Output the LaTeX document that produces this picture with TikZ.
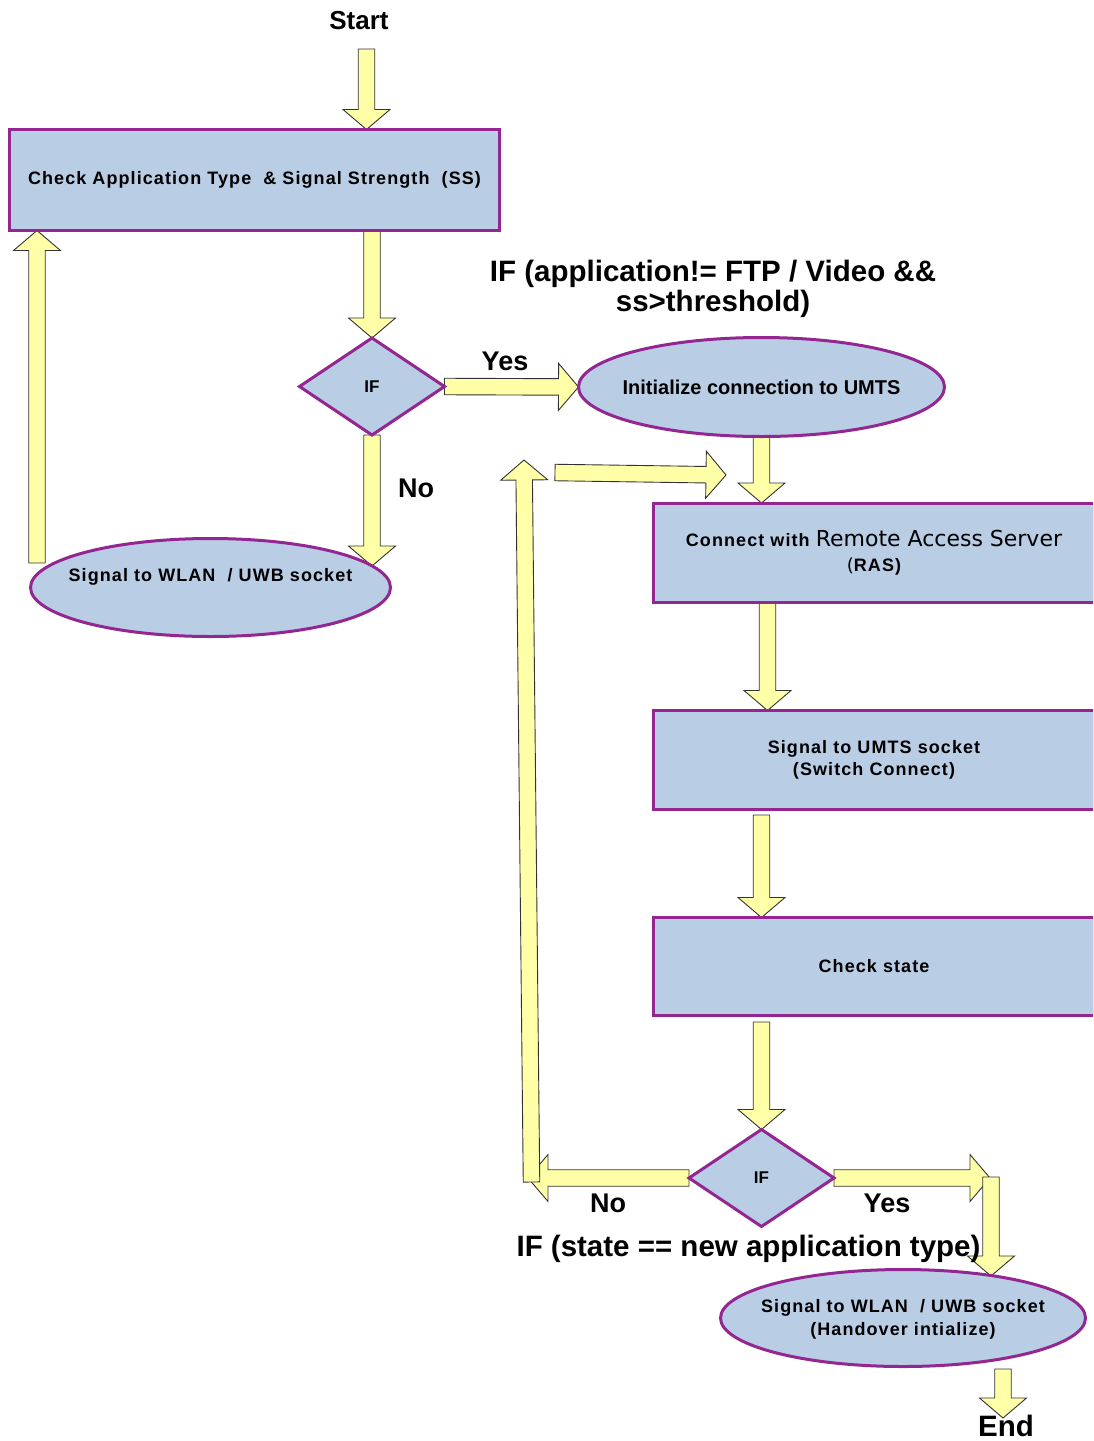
\documentclass[tikz,border=0pt]{standalone}
\usepackage{fontspec}
\setmainfont{Liberation Sans}
\newfontfamily\lsp[LetterSpace=6]{Liberation Sans}
\newfontfamily\dvs{DejaVu Sans}
\usetikzlibrary{shapes.geometric,calc}
\definecolor{pur}{RGB}{148,38,145}
\definecolor{bfill}{RGB}{185,205,229}
\definecolor{ayel}{RGB}{255,255,168}
\pgfdeclarelayer{bg}
\pgfsetlayers{bg,main}
\newcommand\bfs{\lsp\bfseries\fontsize{18}{22}\selectfont}
\newcommand\blockarr[2]{%
  \coordinate (ba-a) at #1;
  \coordinate (ba-b) at #2;
  \coordinate (ba-h) at ($(ba-b)!20pt!(ba-a)$);
  \draw[arrowbody] ($(ba-a)!8.25pt!90:(ba-b)$) -- ($(ba-h)!8.25pt!90:(ba-b)$)
    -- ($(ba-h)!23.5pt!90:(ba-b)$) -- (ba-b) -- ($(ba-h)!23.5pt!-90:(ba-b)$)
    -- ($(ba-h)!8.25pt!-90:(ba-b)$) -- ($(ba-a)!8.25pt!-90:(ba-b)$) -- cycle;
}
\begin{document}
\begin{tikzpicture}[x=1pt,y=-1pt,
  box/.style={rectangle, draw=pur, line width=3pt, fill=bfill, inner sep=0pt, outer sep=0pt, align=center, font=\bfs},
  ell/.style={ellipse, draw=pur, line width=3pt, fill=bfill, inner sep=0pt, outer sep=0pt},
  dia/.style={diamond, draw=pur, line width=3pt, fill=bfill, inner sep=0pt, outer sep=0pt, minimum width=145, minimum height=97, font=\bfseries\fontsize{17}{20}\selectfont},
  txt/.style={font=\bfs, align=center, inner sep=0pt},
  lblA/.style={font=\bfseries\fontsize{29.5}{34}\selectfont, inner sep=0pt},
  lblB/.style={font=\bfseries\fontsize{27}{32}\selectfont, inner sep=0pt},
  arrowbody/.style={fill=ayel, draw=black!80, line width=0.9pt, line join=miter}]
\useasboundingbox (0,0) rectangle (1093,1441);
\clip (0,0) rectangle (1093,1441);

% nodes
\node[lblA, anchor=base, font=\bfseries\fontsize{26}{30}\selectfont] (start) at (359,29.5) {Start};
\node[box, minimum width=490, minimum height=101] (box1) at (254.5,180) {Check Application Type\ \ \& Signal Strength\ \ (SS)};
\node[lblA, anchor=base] (cond1a) at (713,281) {IF (application!= FTP / Video \&\&};
\node[lblA, anchor=base] (cond1b) at (713,311) {ss>threshold)};
\node[dia] (if1) at (372,386.5) {IF};
\node[lblB, anchor=base] (yes1) at (505,370) {Yes};
\node[lblB, anchor=base] (no1) at (416,497) {No};
\node[ell, minimum width=366, minimum height=99] (init) at (761.5,387) {};
\node[txt, font=\bfseries\fontsize{20}{24}\selectfont] (inittxt) at (init.center) {Initialize connection to UMTS};
\node[ell, minimum width=360, minimum height=98] (wlan) at (210.5,587.5) {};
\node[txt] (wlantxt) at (210.5,577) {Signal to WLAN\ \ / UWB socket};
\node[box, minimum width=441, minimum height=99] (conn) at (874,552.5)
  {Connect with {\dvs\mdseries\fontsize{22}{27}\selectfont Remote Access Server}\\[3pt]{\dvs\mdseries(}RAS)};
\node[box, minimum width=441, minimum height=99] (umts) at (874,760) {Signal to UMTS socket\\(Switch Connect)};
\node[box, minimum width=441, minimum height=98] (check) at (874,966.5) {Check state};
\node[dia] (if2) at (761.5,1178) {IF};
\node[lblB, anchor=base] (no2) at (608,1212) {No};
\node[lblB, anchor=base] (yes2) at (887,1212) {Yes};
\node[ell, minimum width=365, minimum height=97] (final) at (903,1318) {};
\node[txt, font=\lsp\bfseries\fontsize{18}{23}\selectfont] (finaltxt) at (903,1319) {Signal to WLAN\ \ / UWB socket\\(Handover intialize)};
\node[lblA, anchor=base] (end) at (1006,1436) {End};
\node[lblA, anchor=base] (cond2) at (748.5,1256) {IF (state == new application type)};

% block arrows
\begin{pgfonlayer}{bg}
\coordinate (a1s) at (366.5,49);
\blockarr{(a1s)}{($(box1.north west)+(357,0)$)}
\blockarr{(box1.south -| if1.north)}{(if1.north)}
\coordinate (a3e) at (372,566);
\blockarr{(if1.south)}{(a3e)}
\coordinate (a4s) at (37,563);
\blockarr{(a4s)}{($(box1.south west)+(27.5,0)$)}
\blockarr{(if1.east)}{(init.west)}
\blockarr{(init.south)}{(init.south |- conn.north)}
\coordinate (a7s) at (555,472.5);
\coordinate (a7e) at (726,475);
\blockarr{(a7s)}{(a7e)}
\blockarr{($(conn.south west)+(114,0)$)}{($(umts.north west)+(114,0)$)}
\coordinate (a9s) at (761.5,815);
\blockarr{(a9s)}{(a9s |- check.north)}
\coordinate (a10s) at (761.5,1022);
\blockarr{(a10s)}{(if2.north)}
\coordinate (a11e) at (528,1178);
\blockarr{(if2.west)}{(a11e)}
\coordinate (a12s) at (531.5,1182);
\coordinate (a12e) at (524,460);
\blockarr{(a12s)}{(a12e)}
\coordinate (a13e) at (990,1178);
\blockarr{(if2.east)}{(a13e)}
\coordinate (a14s) at (991,1177);
\coordinate (a14e) at (991,1276);
\blockarr{(a14s)}{(a14e)}
\coordinate (a15s) at (1003,1369);
\coordinate (a15e) at (1003,1418);
\blockarr{(a15s)}{(a15e)}
\end{pgfonlayer}
\end{tikzpicture}
\end{document}
